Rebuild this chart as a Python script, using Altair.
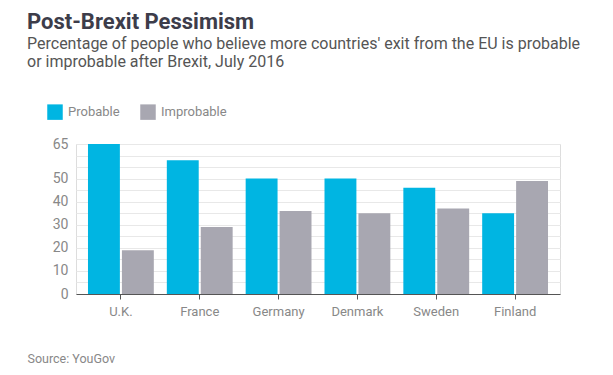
import altair as alt
import pandas as pd

countries = ["U.K.", "France", "Germany", "Denmark", "Sweden", "Finland"]
probable = [65, 58, 50, 50, 46, 35]
improbable = [19, 29, 36, 35, 37, 49]
series = ["Probable", "Improbable"]
colors = ["#00b5e2", "#a8a7b1"]
y_grid_values = [0, 5, 10, 15, 20, 25, 30, 35, 40, 45, 50, 55, 60, 65]

rows = []
for c, p, i in zip(countries, probable, improbable):
    rows.append({"country": c, "series": "Probable", "value": p})
    rows.append({"country": c, "series": "Improbable", "value": i})
df = pd.DataFrame(rows)

FONT = "Roboto"

chart = alt.Chart(df).mark_bar().encode(
    x=alt.X(
        "country:N",
        sort=countries,
        scale=alt.Scale(paddingInner=0.165, paddingOuter=0.152),
        axis=alt.Axis(
            title="Source: YouGov",
            titleX=-49,
            titleY=68,
            titleAlign="left",
            titleBaseline="alphabetic",
            titleFont=FONT,
            titleFontSize=12.5,
            titleFontWeight="normal",
            titleColor="#888888",
            labelAngle=0,
            labelFont=FONT,
            labelFontSize=13,
            labelColor="#888888",
            labelPadding=6,
            tickSize=5,
            tickColor="#555555",
            domainColor="#555555",
            grid=False,
        ),
    ),
    xOffset=alt.XOffset(
        "series:N",
        sort=series,
        scale=alt.Scale(paddingInner=0.06, paddingOuter=0),
    ),
    y=alt.Y(
        "value:Q",
        scale=alt.Scale(domain=[0, 65], nice=False),
        axis=alt.Axis(
            title=None,
            values=y_grid_values,
            labelExpr="(datum.value % 10 == 0 && datum.value <= 50) || datum.value == 65 ? datum.label : ''",
            labelFont=FONT,
            labelFontSize=14,
            labelColor="#888888",
            labelPadding=8,
            ticks=False,
            domain=False,
            gridColor="#e8e8e8",
            gridWidth=1,
        ),
    ),
    color=alt.Color(
        "series:N",
        sort=series,
        scale=alt.Scale(domain=series, range=colors),
        legend=alt.Legend(
            title=None,
            orient="none",
            legendX=-29,
            legendY=-40,
            direction="horizontal",
            symbolType="square",
            symbolSize=240,
            symbolStrokeWidth=0,
            symbolOpacity=1,
            labelFont=FONT,
            labelFontSize=13,
            labelColor="#888888",
            labelOffset=5,
            columnPadding=20,
        ),
    ),
).properties(
    width=484,
    height=150,
    title=alt.TitleParams(
        text="Post-Brexit Pessimism",
        subtitle=[
            "Percentage of people who believe more countries' exit from the EU is probable",
            "or improbable after Brexit, July 2016",
        ],
        anchor="start",
        frame="group",
        dx=-49,
        font=FONT,
        fontSize=22,
        fontWeight="bold",
        color="#3d3d4a",
        subtitleFont=FONT,
        subtitleFontSize=16,
        subtitleColor="#555555",
        subtitleLineHeight=18.5,
        subtitlePadding=2,
        offset=33,
    ),
    autosize=alt.AutoSizeParams(type="none"),
    padding={"left": 76, "top": 144, "right": 53, "bottom": 81},
).configure_view(stroke=None).configure(background="white")

chart.save("out.html", embed_options={"renderer": "svg", "actions": False})
